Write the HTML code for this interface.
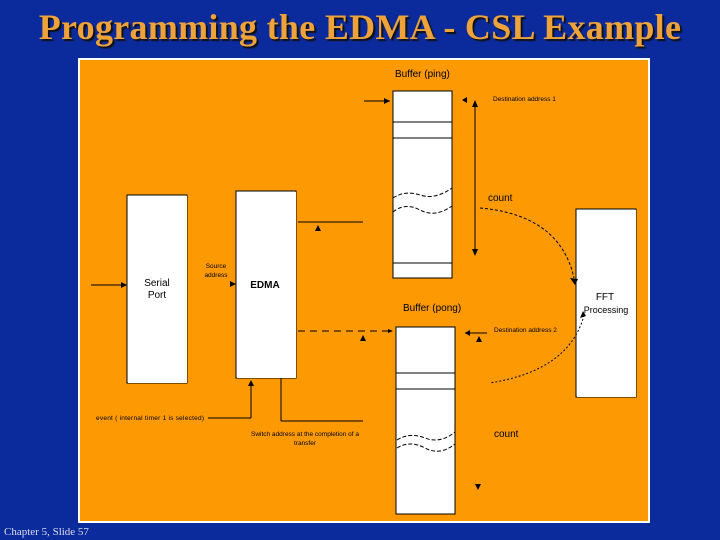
<!DOCTYPE html>
<html><head><style>
body{margin:0;width:720px;height:540px;background:#0b2b9c;overflow:hidden;position:relative;font-family:"Liberation Sans",sans-serif}
.t{position:absolute;left:0;width:720px;top:6px;text-align:center;font:bold 36px "Liberation Serif",serif;color:#eea23a;text-shadow:2px 2px 1px #111;letter-spacing:0.3px}
.f{position:absolute;left:4px;top:526px;font:11px "Liberation Serif",serif;color:#dde}
</style></head><body>
<div class="t">Programming the EDMA - CSL Example</div>
<svg style="position:absolute;left:0;top:0" width="720" height="540" font-family="Liberation Sans, sans-serif">
<rect x="79" y="59" width="570" height="463" fill="#fd9a03" stroke="#fff" stroke-width="2"/>
<g fill="#fff" stroke="#000" stroke-width="1">
<rect x="127" y="195" width="60" height="188"/>
<rect x="236" y="191" width="60" height="187"/>
<rect x="393" y="91" width="59" height="187"/>
<rect x="396" y="327" width="59" height="187"/>
<rect x="576" y="209" width="60" height="188"/>
</g>
<g fill="#fff"><rect x="128" y="196" width="59" height="187"/><rect x="237" y="192" width="59" height="186"/><rect x="577" y="210" width="59" height="187"/></g>
<g stroke="#000" stroke-width="1" fill="none">
<line x1="393" y1="122" x2="452" y2="122"/><line x1="393" y1="138" x2="452" y2="138"/><line x1="393" y1="263" x2="452" y2="263"/>
<line x1="396" y1="373" x2="455" y2="373"/><line x1="396" y1="389" x2="455" y2="389"/>
<line x1="364" y1="101" x2="390" y2="101"/>
<line x1="475" y1="104" x2="475" y2="252"/>
<line x1="91" y1="285" x2="125" y2="285"/>
<line x1="298" y1="222" x2="363" y2="222"/>
<line x1="208" y1="418" x2="251" y2="418"/><line x1="251" y1="418" x2="251" y2="384"/>
<line x1="281" y1="378" x2="281" y2="421"/><line x1="281" y1="421" x2="363" y2="421"/>
<line x1="465" y1="333" x2="487" y2="333"/>
</g>
<g stroke="#000" stroke-width="1" fill="none" stroke-dasharray="4,2">
<path d="M393 198 Q405 190 420 195 T452 188" /><path d="M393 212 Q405 202 420 210 T452 206"/>
<path d="M397 440 Q410 432 425 438 T455 432"/><path d="M397 448 Q410 440 425 448 T455 444"/>
</g>
<path d="M480 208 Q560 215 574 278" stroke="#000" fill="none" stroke-dasharray="3,2"/>
<path d="M584 315 Q570 370 490 383" stroke="#000" fill="none" stroke-dasharray="2,2"/>
<line x1="298" y1="331" x2="390" y2="331" stroke="#000" stroke-dasharray="7,5"/>
<g fill="#000">
<polygon points="390,101 384,98 384,104"/><polygon points="462,100 467,97 467,103"/>
<polygon points="475,100 472,107 478,107"/><polygon points="475,256 472,249 478,249"/>
<polygon points="127,285 121,282 121,288"/><polygon points="236,284 230,281 230,287"/>
<polygon points="318,225 315,231 321,231"/><polygon points="363,335 360,341 366,341"/>
<polygon points="393,331 388,329 388,333"/><polygon points="465,333 470,330 470,336"/>
<polygon points="479,336 476,342 482,342"/><polygon points="251,380 248,386 254,386"/>
<polygon points="478,484 475,484 478,490 481,484"/>
<polygon points="575,285 570,278 578,279"/><polygon points="580,318 583,311 586,316"/>
</g>
<g font-size="10" fill="#000">
<text x="395" y="77">Buffer (ping)</text>
<text x="403" y="311">Buffer (pong)</text>
<text x="157" y="286" text-anchor="middle">Serial</text><text x="157" y="298" text-anchor="middle">Port</text>
<text x="265" y="288" text-anchor="middle" font-weight="bold" font-size="10">EDMA</text>
<text x="488" y="201">count</text><text x="494" y="437">count</text>
<text x="605" y="300" text-anchor="middle">FFT</text><text x="606" y="313" text-anchor="middle" font-size="9">Processing</text>
</g>
<g font-size="6.5" fill="#000">
<text x="493" y="101">Destination address 1</text>
<text x="494" y="332">Destination address 2</text>
<text x="216" y="268" text-anchor="middle">Source</text><text x="216" y="277" text-anchor="middle">address</text>
<text x="96" y="420" textLength="108">event ( internal timer 1 is selected)</text>
<text x="305" y="436" text-anchor="middle">Switch address at the completion of a</text>
<text x="305" y="445" text-anchor="middle">transfer</text>
</g>
</svg>
<div class="f">Chapter 5, Slide 57</div>
</body></html>
